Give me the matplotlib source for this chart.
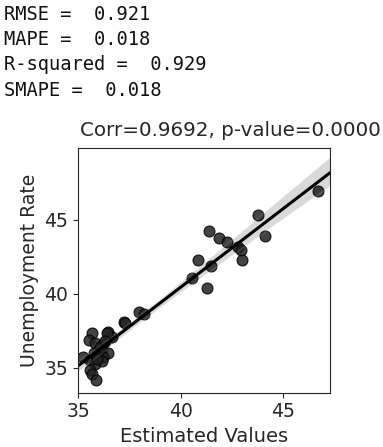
import numpy as np
import matplotlib
matplotlib.use("Agg")
import matplotlib.pyplot as plt
import seaborn as sns

# estimated vs actual unemployment rate
estimated = [46.69, 43.80, 41.39, 41.89, 42.28, 42.82, 42.94, 44.12, 43.01, 40.87,
             41.47, 40.58, 41.31, 37.98, 38.19, 37.26, 36.45, 36.67, 37.29, 36.43,
             35.67, 35.54, 35.83, 36.23, 36.15, 36.48, 35.99, 35.26, 35.59, 35.83,
             36.23, 36.17, 35.59, 35.67, 35.86, 35.95, 36.05, 35.75, 36.30, 35.90]
actual = [46.93, 45.29, 44.21, 43.78, 43.49, 43.11, 42.93, 43.87, 42.25, 42.25,
          41.84, 41.05, 40.34, 38.76, 38.60, 38.08, 37.41, 37.07, 38.00, 37.34,
          37.30, 36.85, 36.64, 36.62, 36.28, 35.95, 35.83, 35.72, 35.49, 35.27,
          35.72, 35.43, 34.82, 34.59, 34.14, 36.10, 36.40, 36.00, 36.80, 35.60]

metric_names = ["RMSE", "MAPE", "R-squared", "SMAPE"]
metric_values = ["0.921", "0.018", "0.929", "0.018"]
corr, pval = 0.9692, 0.0000

sns.set_style("ticks")
plt.rcParams['font.family'] = ['DejaVu Sans']

fig = plt.figure(figsize=(3.83, 4.47), dpi=100)
ax = fig.add_axes([0.203, 0.1215, 0.659, 0.548])

for i, (n, v) in enumerate(zip(metric_names, metric_values)):
    fig.text(0.01, 1 - (14 + i * 25.5) / 447, f"{n} =  {v}", family="DejaVu Sans Mono",
             fontsize=13.5, va="center", ha="left", color="#111111")

ax.set_xlim(34.98, 47.3)
ax.set_ylim(33.3, 49.85)
sns.regplot(x=np.array(estimated), y=np.array(actual), ax=ax, seed=0, truncate=False,
            scatter_kws=dict(s=62, color="#222222", alpha=0.85, edgecolor="black", linewidths=0.8),
            line_kws=dict(color="black", lw=2.2), color="black")
ax.set_xlim(34.98, 47.3)
ax.set_ylim(33.3, 49.85)

ax.set_xticks([35, 40, 45])
ax.set_yticks([35, 40, 45])
ax.tick_params(labelsize=13.5)
ax.set_xlabel("Estimated Values", fontsize=14)
ax.set_ylabel("Unemployment Rate", fontsize=13.5)
fig.text(230 / 383, 1 - 130 / 447, f"Corr={corr:.4f}, p-value={pval:.4f}",
         fontsize=14.3, ha="center", va="center")

fig.savefig("out.png", dpi=100)
